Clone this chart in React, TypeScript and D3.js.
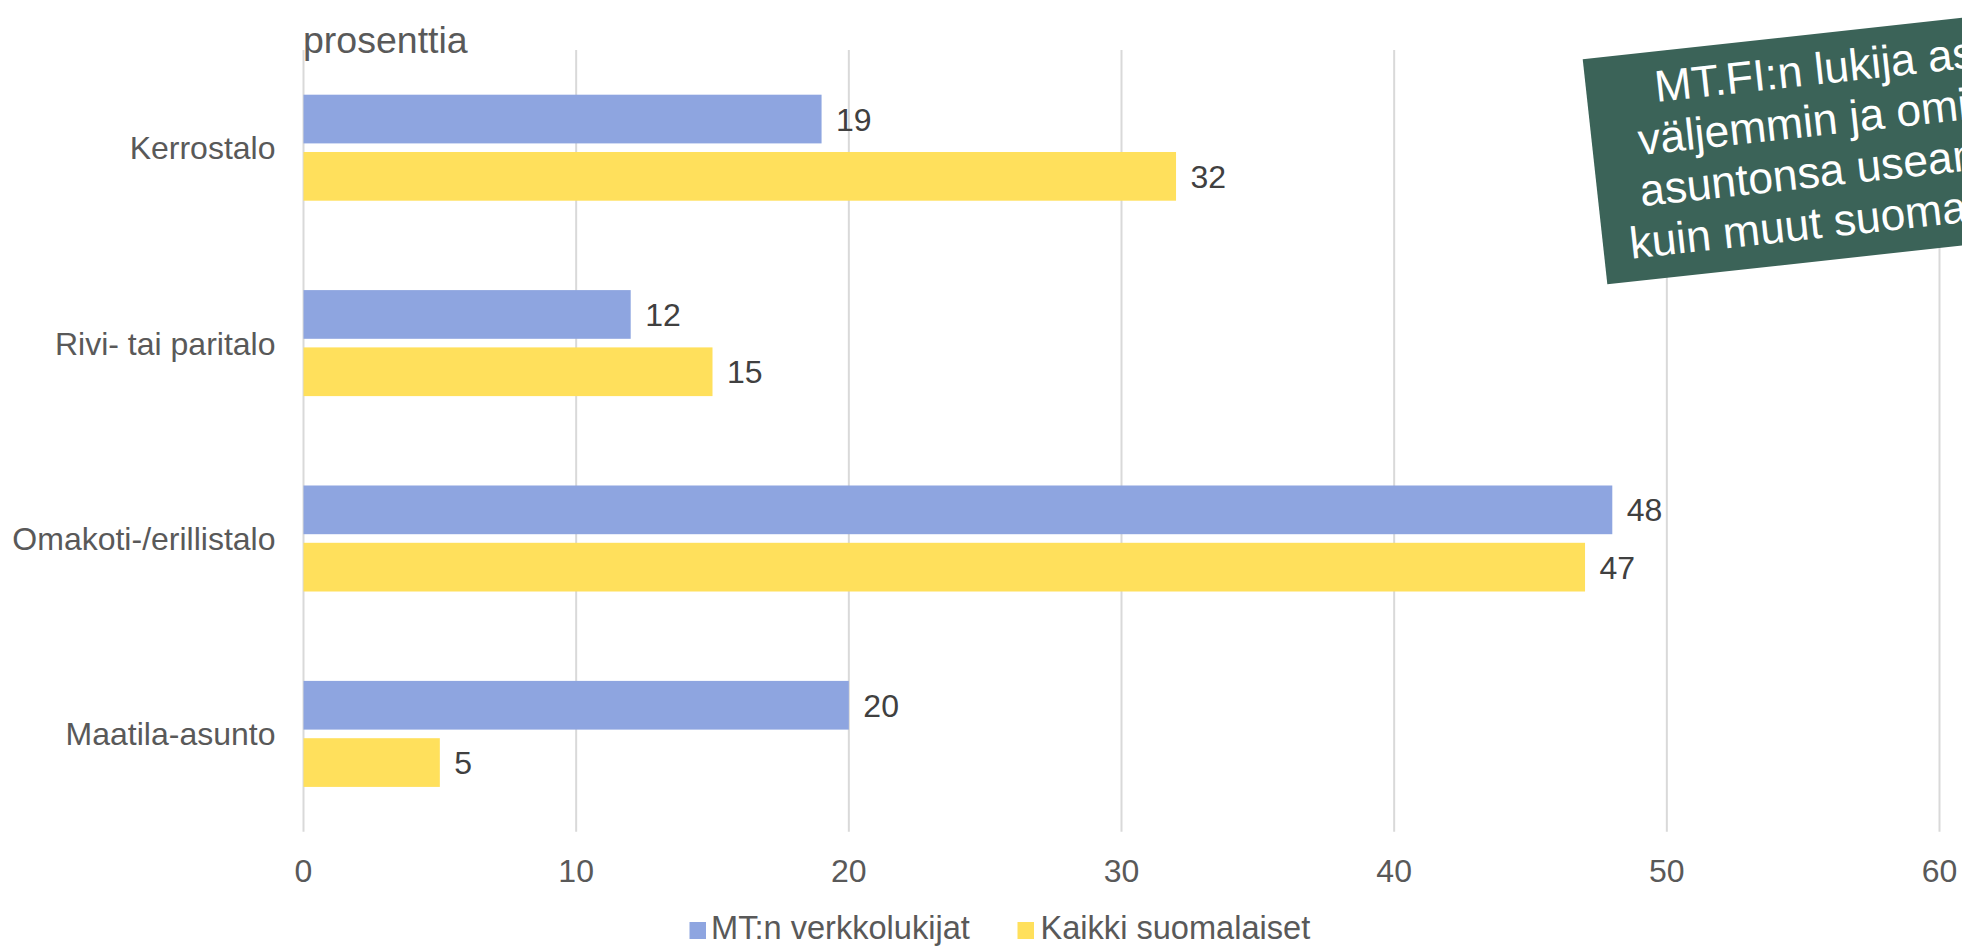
import React, { useEffect } from "react";
import * as d3 from "d3";

const categories = ["Kerrostalo", "Rivi- tai paritalo", "Omakoti-/erillistalo", "Maatila-asunto"];
const seriesNames = ["MT:n verkkolukijat", "Kaikki suomalaiset"];
const mtValues = [19, 12, 48, 20];
const allValues = [32, 15, 47, 5];
const xTicks = [0, 10, 20, 30, 40, 50, 60];
const seriesColors = ["#8EA5E0", "#FFE05C"];
const axisTitle = "prosenttia";
const calloutLines = [
  "MT.FI:n lukija asuu",
  "väljemmin ja omistaa",
  "asuntonsa useammin",
  "kuin muut suomalaiset.",
];

const W = 1962;
const H = 948;
const FONT = "'Liberation Sans', Arial, Helvetica, sans-serif";

export default function App() {
  useEffect(() => {
    document.body.style.margin = "0";
  }, []);

  const x = d3.scaleLinear().domain([0, 60]).range([303.5, 1939.5]);
  const y = d3.scaleBand<string>().domain(categories).range([50, 831.6]).paddingInner(0).paddingOuter(0);
  const inner = d3
    .scaleBand<string>()
    .domain(seriesNames)
    .range([0, y.bandwidth()])
    .paddingInner(0.15)
    .paddingOuter(0.78);

  const data = [mtValues, allValues];

  const gridTop = 50;
  const gridBottom = 831.7;

  const boxAngle = -6.25;
  const boxW = 508;
  const boxH = 226.4;

  return (
    <svg
      width={W}
      height={H}
      viewBox={`0 0 ${W} ${H}`}
      style={{ position: "absolute", left: 0, top: 0, display: "block", overflow: "hidden" }}
      fontFamily={FONT}
    >
      <rect x={0} y={0} width={W} height={H} fill="#ffffff" />
      {/* gridlines */}
      {xTicks.map((t) => (
        <line
          key={"g" + t}
          x1={x(t)}
          x2={x(t)}
          y1={gridTop}
          y2={gridBottom}
          stroke="#D9D9D9"
          strokeWidth={2}
        />
      ))}
      {/* tick labels */}
      {xTicks.map((t) => (
        <text key={"t" + t} x={x(t)} y={881.7} textAnchor="middle" fontSize={32} fill="#595959">
          {t}
        </text>
      ))}
      {/* axis title */}
      <text x={303} y={53.3} fontSize={37.5} fill="#595959">
        {axisTitle}
      </text>
      {/* category labels */}
      {categories.map((c) => (
        <text
          key={"c" + c}
          x={275.5}
          y={(y(c) ?? 0) + y.bandwidth() / 2 + 11.5}
          textAnchor="end"
          fontSize={32}
          fill="#595959"
        >
          {c}
        </text>
      ))}
      {/* bars */}
      {seriesNames.map((s, si) =>
        categories.map((c, ci) => {
          const v = data[si][ci];
          const by = (y(c) ?? 0) + (inner(s) ?? 0);
          return (
            <g key={s + c}>
              <rect x={x(0)} y={by} width={x(v) - x(0)} height={inner.bandwidth()} fill={seriesColors[si]} />
              <text x={x(v) + 14.5} y={by + inner.bandwidth() / 2 + 11.5} fontSize={32} fill="#404040">
                {v}
              </text>
            </g>
          );
        })
      )}
      {/* legend */}
      <rect x={689.5} y={922} width={16.5} height={17} fill={seriesColors[0]} />
      <text x={711} y={939.3} fontSize={32.6} fill="#595959">
        {seriesNames[0]}
      </text>
      <rect x={1017.5} y={922} width={16.5} height={17} fill={seriesColors[1]} />
      <text x={1040.5} y={939.3} fontSize={32.6} fill="#595959">
        {seriesNames[1]}
      </text>
      {/* callout box */}
      <g transform={`translate(1582.7,59.3) rotate(${boxAngle})`}>
        <rect x={0} y={0} width={boxW} height={boxH} fill="#3B6358" />
        {calloutLines.map((l, i) => (
          <text key={"l" + i} x={254} y={50.5 + i * 51} textAnchor="middle" fontSize={44.5} fill="#ffffff">
            {l}
          </text>
        ))}
      </g>
    </svg>
  );
}
